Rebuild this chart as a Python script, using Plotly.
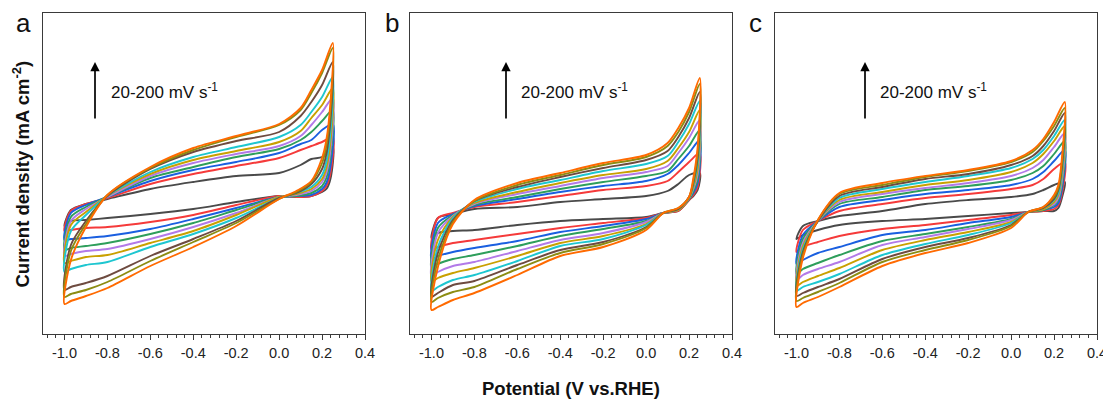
import plotly.graph_objects as go

# ---------------- data ----------------
SCAN_RATES = [20, 40, 60, 80, 100, 120, 140, 160, 180, 200]  # mV s-1
COLORS = ["#4a4a4a", "#f53a3a", "#1a5fe0", "#2e9e5b", "#b27ae8",
          "#c9a000", "#1ec6d0", "#6e4b40", "#8c8c12", "#ff6a00"]

TICK_VALS = [-1.0, -0.8, -0.6, -0.4, -0.2, 0.0, 0.2, 0.4]
TICK_TEXT = ["-1.0", "-0.8", "-0.6", "-0.4", "-0.2", "0.0", "0.2", "0.4"]

# potentials of the forward (anodic) and reverse (cathodic) sweep samples, V vs. RHE
E_FWD = [-1.0, -0.97, -0.9, -0.8, -0.6, -0.4, -0.2, 0.0, 0.1, 0.15, 0.2, 0.25]
E_REV = [0.24, 0.22, 0.2, 0.15, 0.08, 0.0, -0.2, -0.4, -0.6, -0.8, -0.9, -0.97]

# current density (a.u.), one row per potential, one column per scan rate
A_FWD = [
    [-29, -34, -43, -53, -59, -66, -75, -93, -100, -107],
    [-13, -14, -16, -20, -24, -28, -34, -48, -54, -63],
    [-7, -7, -8, -10, -12, -15, -18, -24, -27, -30],
    [-2, -1, 0, 0, 0, 1, 1, 1, 2, 2],
    [8, 13, 16, 19, 21, 23, 25, 28, 29, 30],
    [15, 23, 27, 30, 34, 37, 40, 45, 47, 49],
    [21, 31, 35, 40, 43, 46, 50, 56, 60, 61],
    [24, 39, 44, 48, 51, 55, 60, 65, 72, 73],
    [32, 47, 53, 57, 61, 66, 72, 81, 87, 89],
    [38, 51, 57, 65, 72, 79, 85, 95, 104, 107],
    [40, 55, 67, 76, 85, 92, 100, 112, 124, 127],
    [50, 60, 73, 87, 99, 109, 120, 135, 149, 154],
]
A_REV = [
    [19, 25, 32, 42, 49, 57, 67, 79, 89, 97],
    [8, 11, 14, 19, 24, 29, 35, 43, 51, 57],
    [5, 6, 8, 11, 15, 18, 22, 28, 34, 39],
    [1, 1, 2, 4, 6, 8, 10, 13, 15, 16],
    [0, 0, 1, 1, 2, 3, 4, 4, 5, 6],
    [1, 1, 0, 0, 0, 0, -1, -1, -2, -2],
    [-5, -8, -11, -13, -16, -18, -21, -24, -26, -29],
    [-12, -18, -22, -26, -30, -34, -37, -42, -45, -50],
    [-17, -25, -32, -37, -42, -46, -50, -59, -64, -69],
    [-21, -30, -39, -46, -52, -58, -65, -79, -85, -91],
    [-23, -31, -41, -49, -54, -60, -68, -86, -93, -99],
    [-24, -33, -42, -51, -57, -64, -72, -90, -97, -104],
]

B_FWD = [
    [-41, -53, -62, -71, -79, -85, -94, -100, -105, -113],
    [-21, -21, -26, -31, -36, -43, -50, -56, -63, -70],
    [-17, -16, -17, -18, -19, -20, -21, -23, -25, -27],
    [-12, -10, -9, -8, -7, -6, -5, -4, -4, -3],
    [-10, -5, -2, 0, 3, 5, 8, 10, 12, 14],
    [-5, 1, 5, 8, 11, 14, 17, 20, 22, 24],
    [-2, 7, 11, 15, 19, 22, 26, 29, 32, 34],
    [1, 11, 16, 21, 25, 28, 33, 37, 40, 42],
    [6, 16, 23, 26, 31, 36, 41, 46, 51, 54],
    [13, 25, 32, 38, 44, 49, 55, 60, 65, 69],
    [22, 35, 44, 51, 59, 65, 73, 79, 85, 89],
    [24, 44, 57, 67, 77, 87, 96, 105, 113, 119],
]
B_REV = [
    [7, 10, 14, 18, 23, 28, 34, 39, 44, 50],
    [1, 2, 4, 6, 8, 10, 12, 14, 16, 19],
    [-3, -3, -2, -2, -1, -1, -1, 0, 0, 0],
    [-14, -14, -13, -13, -13, -13, -12, -12, -11, -11],
    [-16, -16, -16, -16, -16, -16, -16, -16, -16, -16],
    [-20, -21, -22, -24, -25, -27, -28, -30, -31, -33],
    [-22, -26, -29, -32, -36, -39, -42, -45, -47, -50],
    [-24, -31, -35, -39, -43, -46, -49, -53, -56, -59],
    [-28, -37, -44, -49, -54, -59, -64, -68, -72, -78],
    [-33, -43, -51, -58, -65, -71, -78, -84, -90, -96],
    [-34, -46, -55, -62, -69, -76, -83, -88, -95, -103],
    [-36, -50, -59, -67, -75, -81, -90, -96, -101, -110],
]

C_FWD = [
    [-42, -55, -67, -77, -83, -89, -94, -99, -104, -110],
    [-29, -33, -38, -42, -46, -49, -52, -55, -58, -61],
    [-24, -24, -24, -24, -24, -24, -24, -24, -23, -23],
    [-19, -14, -10, -7, -5, -3, -1, 1, 3, 4],
    [-14, -7, -3, 0, 3, 5, 8, 10, 12, 14],
    [-7, -1, 3, 7, 9, 12, 15, 18, 20, 21],
    [-3, 3, 7, 11, 14, 17, 21, 23, 26, 27],
    [0, 8, 12, 17, 21, 25, 29, 32, 35, 36],
    [3, 12, 18, 24, 29, 34, 38, 41, 45, 47],
    [7, 18, 25, 31, 37, 43, 47, 51, 56, 58],
    [12, 28, 36, 43, 50, 56, 61, 66, 71, 75],
    [15, 35, 47, 56, 64, 71, 77, 84, 89, 95],
]
C_REV = [
    [2, 7, 12, 17, 22, 27, 32, 37, 42, 47],
    [-11, -8, -6, -3, -1, 2, 4, 7, 9, 12],
    [-14, -12, -10, -8, -7, -5, -3, -2, 0, 2],
    [-14, -14, -13, -13, -12, -12, -11, -11, -10, -10],
    [-15, -15, -15, -15, -15, -15, -15, -15, -15, -15],
    [-16, -18, -20, -22, -23, -25, -26, -28, -29, -31],
    [-19, -23, -26, -30, -32, -35, -38, -41, -43, -46],
    [-22, -28, -33, -37, -40, -43, -47, -50, -53, -56],
    [-24, -32, -38, -44, -48, -53, -58, -62, -65, -69],
    [-28, -39, -50, -58, -65, -71, -77, -82, -86, -90],
    [-33, -45, -56, -66, -72, -79, -85, -90, -95, -100],
    [-38, -50, -63, -72, -78, -85, -90, -96, -101, -106],
]

PANEL_LABELS = ["a", "b", "c"]
ANNOT_TEXT = "20-200 mV s<sup>-1</sup>"
X_TITLE = "Potential (V vs.RHE)"
Y_TITLE = "Current density (mA cm<sup>-2</sup>)"

# ---------------- figure ----------------
FONT = "Arial, Liberation Sans, sans-serif"
panels = [(A_FWD, A_REV), (B_FWD, B_REV), (C_FWD, C_REV)]
# plot area (page px): a 43-365, b 410-732, c 775-1097 ; the page body adds an 8 px margin
W, H = 1103, 395
ML, MR, MT, MB = 35, 14, 5, 69
PW = W - ML - MR
domains = [[(43 - 43) / PW, (365 - 43) / PW],
           [(410 - 43) / PW, (732 - 43) / PW],
           [(775 - 43) / PW, (1097 - 43) / PW]]

fig = go.Figure()
for p, (fwd, rev) in enumerate(panels):
    xa = "x" if p == 0 else f"x{p+1}"
    ya = "y" if p == 0 else f"y{p+1}"
    for k, rate in enumerate(SCAN_RATES):
        xs = E_FWD + E_REV + [E_FWD[0]]
        ys = [row[k] for row in fwd] + [row[k] for row in rev] + [fwd[0][k]]
        fig.add_trace(go.Scatter(
            x=xs, y=ys, mode="lines", xaxis=xa, yaxis=ya,
            name=f"{rate} mV s-1", showlegend=False,
            line=dict(color=COLORS[k], width=1.9, shape="spline", smoothing=0.8),
        ))

axis_common = dict(showgrid=False, zeroline=False, showline=True, mirror=True,
                   linecolor="#3a3a3a", linewidth=1.4)
layout = dict(
    width=W, height=H,
    margin=dict(l=ML, r=MR, t=MT, b=MB, pad=0),
    paper_bgcolor="white", plot_bgcolor="white",
    font=dict(family=FONT, color="#222"),
    showlegend=False,
)
for p in range(3):
    sx = "" if p == 0 else str(p + 1)
    layout[f"xaxis{sx}"] = dict(
        axis_common, domain=domains[p], anchor=f"y{sx}",
        range=[-1.1, 0.4], tickmode="array", tickvals=TICK_VALS, ticktext=TICK_TEXT,
        ticks="outside", ticklen=5, tickwidth=1.3, tickcolor="#3a3a3a",
        minor=dict(tick0=-1.0, dtick=0.04, ticks="outside", ticklen=3,
                   tickwidth=1.1, tickcolor="#3a3a3a"),
        tickfont=dict(size=14.5, family=FONT, color="#222"),
    )
    layout[f"yaxis{sx}"] = dict(
        axis_common, domain=[0, 1], anchor=f"x{sx}",
        range=[-137, 184], showticklabels=False, ticks="",
    )
fig.update_layout(**layout)

PH = H - MT - MB
def px_to_paper_x(px):
    return (px - 43) / PW
def py_to_paper_y(py):
    return (334 - py) / PH

arrow_px = [95, 506, 865]
text_px = [109, 519, 878]
letter_px = [23.5, 391.5, 755]
annotations = []
for p in range(3):
    annotations.append(dict(
        xref="paper", yref="paper", axref="pixel", ayref="pixel",
        x=px_to_paper_x(arrow_px[p]), y=py_to_paper_y(62), ax=0, ay=58, text="",
        showarrow=True, arrowhead=2, arrowsize=1.1, arrowwidth=1.7, arrowcolor="black",
    ))
    annotations.append(dict(
        xref="paper", yref="paper", x=px_to_paper_x(text_px[p]), y=py_to_paper_y(91),
        xanchor="left", yanchor="middle", text=ANNOT_TEXT, showarrow=False,
        font=dict(size=17, family=FONT, color="#111"),
    ))
    annotations.append(dict(
        xref="paper", yref="paper", x=px_to_paper_x(letter_px[p]), y=py_to_paper_y(23),
        xanchor="center", yanchor="middle", text=PANEL_LABELS[p], showarrow=False,
        font=dict(size=26, family=FONT, color="#111"),
    ))
annotations.append(dict(
    xref="paper", yref="paper", x=px_to_paper_x(571), y=py_to_paper_y(389),
    xanchor="center", yanchor="middle",
    text=f"<b>{X_TITLE}</b>", showarrow=False, font=dict(size=18.5, family=FONT, color="#111"),
))
annotations.append(dict(
    xref="paper", yref="paper", x=px_to_paper_x(21.5), y=py_to_paper_y(174),
    xanchor="center", yanchor="middle",
    text=f"<b>{Y_TITLE}</b>", textangle=-90, showarrow=False,
    font=dict(size=18.5, family=FONT, color="#111"),
))
fig.update_layout(annotations=annotations)

fig.write_html("out.html")
